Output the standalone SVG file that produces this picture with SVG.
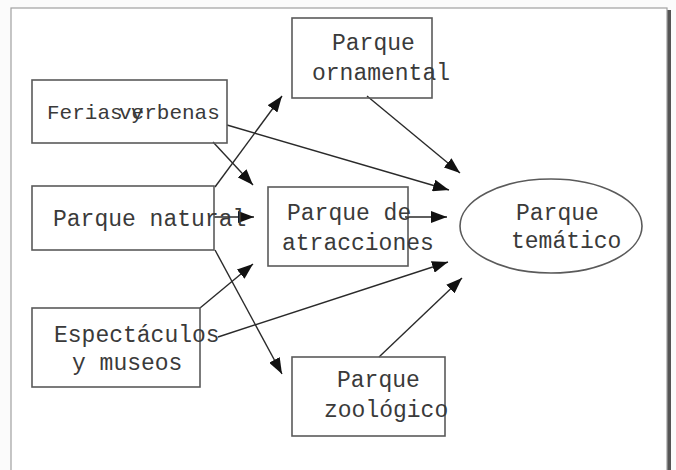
<svg xmlns="http://www.w3.org/2000/svg" width="676" height="470" viewBox="0 0 676 470">
  <style>
    .box { fill: none; stroke: #5a5a5a; stroke-width: 1.6; }
    .lbl { font-family: "Liberation Mono", "DejaVu Sans Mono", monospace; font-size: 23px; fill: #3a3a3a; }
    .con { stroke: #2a2a2a; stroke-width: 1.4; fill: none; marker-end: url(#ah); }
  </style>
  <defs>
    <marker id="ah" viewBox="0 0 16 12" refX="16" refY="6" markerWidth="16" markerHeight="12" markerUnits="userSpaceOnUse" orient="auto">
      <path d="M0,0 L16,6 L0,12 z" fill="#111"/>
    </marker>
  </defs>
  <rect x="0" y="0" width="676" height="470" fill="#fbfbfb"/>
  <rect x="667" y="10" width="4" height="460" fill="#555"/>
  <rect x="11" y="8" width="656" height="470" fill="#ffffff" stroke="#a0a0a0" stroke-width="1.2"/>

  <g id="connectors">
    <line class="con" x1="215" y1="187" x2="282" y2="96"/>
    <line class="con" x1="213" y1="142" x2="253" y2="185"/>
    <line class="con" x1="227" y1="125" x2="449" y2="190"/>
    <line class="con" x1="367" y1="96" x2="460" y2="173"/>
    <line class="con" x1="214" y1="217" x2="254" y2="217"/>
    <line class="con" x1="405" y1="217" x2="447" y2="217"/>
    <line class="con" x1="215" y1="250" x2="282" y2="374"/>
    <line class="con" x1="200" y1="308" x2="253" y2="264"/>
    <line class="con" x1="218" y1="337" x2="448" y2="262"/>
    <line class="con" x1="379" y1="357" x2="462" y2="278"/>
  </g>

  <g id="ferias">
    <rect class="box" x="32" y="80" width="195" height="63"/>
    <text class="lbl" x="47" y="119" style="font-size:21px">Ferias<tspan x="119">verbenas</tspan><tspan x="131">y</tspan></text>
  </g>
  <g id="natural">
    <rect class="box" x="32" y="186" width="182" height="64"/>
    <text class="lbl" x="53" y="226">Parque natural</text>
  </g>
  <g id="espectaculos">
    <rect class="box" x="32" y="308" width="168" height="79"/>
    <text class="lbl" x="54" y="342">Espectáculos</text>
    <text class="lbl" x="72" y="370">y museos</text>
  </g>
  <g id="ornamental">
    <rect class="box" x="292" y="18" width="140" height="80"/>
    <text class="lbl" x="332" y="50">Parque</text>
    <text class="lbl" x="312" y="80">ornamental</text>
  </g>
  <g id="atracciones">
    <rect class="box" x="268" y="187" width="140" height="79"/>
    <text class="lbl" x="287" y="220">Parque de</text>
    <text class="lbl" x="282" y="250">atracciones</text>
  </g>
  <g id="zoologico">
    <rect class="box" x="292" y="357" width="153" height="79"/>
    <text class="lbl" x="337" y="387">Parque</text>
    <text class="lbl" x="324" y="417">zoológico</text>
  </g>
  <g id="tematico">
    <ellipse class="box" cx="551" cy="226" rx="91" ry="47"/>
    <text class="lbl" x="516" y="220">Parque</text>
    <text class="lbl" x="511" y="248">temático</text>
  </g>
</svg>
